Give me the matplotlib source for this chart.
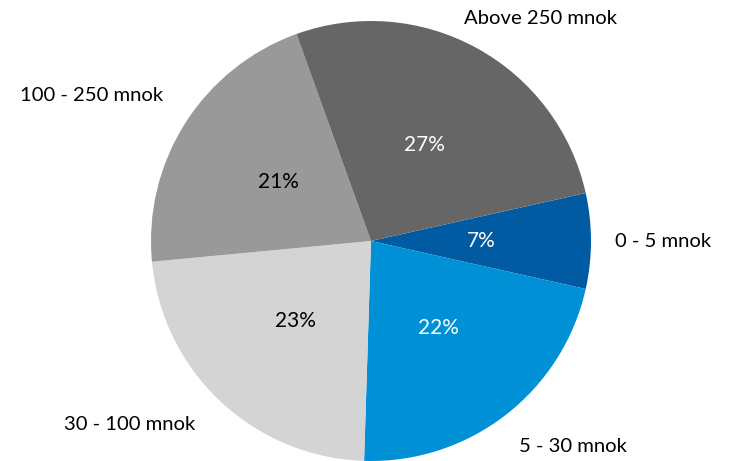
import matplotlib
matplotlib.use("Agg")
import matplotlib.pyplot as plt

categories = ["0 - 5 mnok", "5 - 30 mnok", "30 - 100 mnok", "100 - 250 mnok", "Above 250 mnok"]
shares = [7, 22, 23, 21, 27]
colors = ["#005BA3", "#0090D6", "#D4D4D4", "#999999", "#666666"]
pct_colors = ["white", "white", "black", "black", "white"]

plt.rcParams['font.family'] = ['Lato', 'DejaVu Sans']

W, H = 734, 461
fig = plt.figure(figsize=(W / 100, H / 100), dpi=100)
ax = fig.add_axes([0, 0, 1, 1])
cx, cy, r = 371, 241, 220

wedges, texts, autotexts = ax.pie(
    shares, colors=colors, labels=categories, startangle=12.6, counterclock=False,
    autopct=lambda p: f"{p:.0f}%", pctdistance=0.5, labeldistance=1.15,
    textprops=dict(fontsize=14.6),
)
for t, c in zip(autotexts, pct_colors):
    t.set_color(c)
    t.set_fontsize(15)

label_pos = {
    "0 - 5 mnok": (663, 241),
    "5 - 30 mnok": (573, 446),
    "30 - 100 mnok": (130, 424),
    "100 - 250 mnok": (92, 95),
    "Above 250 mnok": (540, 18),
}
for t in texts:
    px, py = label_pos[t.get_text()]
    t.set_position(((px - cx) / r, (cy - py) / r))
    t.set_ha("center")
    t.set_va("center")

ax.set_aspect("auto")
ax.set_xlim(-cx / r, (W - cx) / r)
ax.set_ylim(-(H - cy) / r, cy / r)
ax.axis("off")
fig.savefig("out.png", dpi=100)
